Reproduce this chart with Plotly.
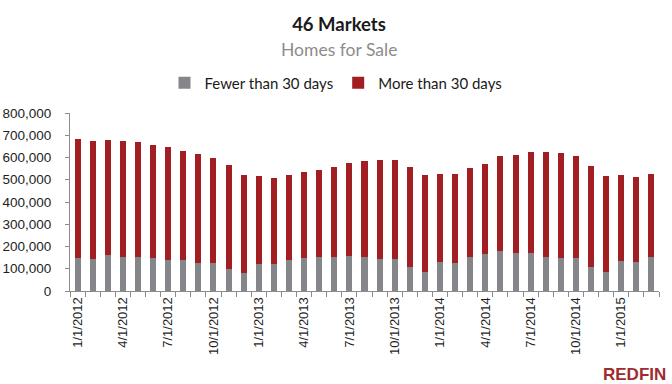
import plotly.graph_objects as go

months = [
    "1/1/2012", "2/1/2012", "3/1/2012", "4/1/2012", "5/1/2012", "6/1/2012",
    "7/1/2012", "8/1/2012", "9/1/2012", "10/1/2012", "11/1/2012", "12/1/2012",
    "1/1/2013", "2/1/2013", "3/1/2013", "4/1/2013", "5/1/2013", "6/1/2013",
    "7/1/2013", "8/1/2013", "9/1/2013", "10/1/2013", "11/1/2013", "12/1/2013",
    "1/1/2014", "2/1/2014", "3/1/2014", "4/1/2014", "5/1/2014", "6/1/2014",
    "7/1/2014", "8/1/2014", "9/1/2014", "10/1/2014", "11/1/2014", "12/1/2014",
    "1/1/2015", "2/1/2015", "3/1/2015",
]

fewer_than_30 = [
    150000, 145000, 163000, 154000, 154000, 150000, 141000, 141000, 127000, 127000,
    100000, 82000, 123000, 123000, 141000, 150000, 154000, 154000, 159000, 154000,
    145000, 145000, 109000, 87000, 132000, 127000, 154000, 168000, 181000, 172000,
    172000, 154000, 150000, 150000, 109000, 87000, 136000, 132000, 154000,
]

more_than_30 = [
    535000, 531000, 517000, 522000, 517000, 508000, 508000, 490000, 490000, 472000,
    468000, 441000, 395000, 386000, 382000, 386000, 391000, 405000, 418000, 432000,
    445000, 445000, 450000, 436000, 395000, 400000, 400000, 404000, 427000, 441000,
    454000, 472000, 472000, 458000, 454000, 431000, 387000, 382000, 373000,
]

tick_labels = [
    "1/1/2012", "", "", "4/1/2012", "", "", "7/1/2012", "", "", "10/1/2012", "", "",
    "1/1/2013", "", "", "4/1/2013", "", "", "7/1/2013", "", "", "10/1/2013", "", "",
    "1/1/2014", "", "", "4/1/2014", "", "", "7/1/2014", "", "", "10/1/2014", "", "",
    "1/1/2015", "", "",
]

GRAY = "#85868A"
RED = "#A11F22"
AXIS = "#8C8C8C"
TEXT = "#1E1E1E"

W, H = 672, 384
ML, MR, MT, MB = 70, 13, 113, 93
PW, PH = W - ML - MR, H - MT - MB


def px_x(px):
    return (px - ML) / PW


def px_y(py):
    return (H - MB - py) / PH


fig = go.Figure()
fig.add_trace(go.Bar(x=months, y=fewer_than_30, name="Fewer than 30 days",
                     marker=dict(color=GRAY, line=dict(width=0))))
fig.add_trace(go.Bar(x=months, y=more_than_30, name="More than 30 days",
                     marker=dict(color=RED, line=dict(width=0))))

fig.update_layout(
    barmode="stack",
    bargap=0.6,
    width=W, height=H,
    paper_bgcolor="white", plot_bgcolor="white",
    margin=dict(l=ML, r=MR, t=MT, b=MB, autoexpand=False),
    font=dict(family="Liberation Sans, Arial, sans-serif", color=TEXT),
    title=dict(text="<b>46 Markets</b>", xref="container", x=339 / W, xanchor="center",
               yref="container", y=1 - 25 / H, yanchor="middle",
               font=dict(family="Lato, sans-serif", size=18.5, color="#1A1A1A")),
    legend=dict(orientation="h", xref="container", x=336 / W, xanchor="center",
                yref="container", y=1 - 83 / H, yanchor="middle",
                font=dict(family="Lato, sans-serif", size=15, color="#1A1A1A"),
                itemwidth=30, traceorder="normal"),
    showlegend=True,
    annotations=[
        dict(text="Homes for Sale", xref="paper", yref="paper",
             x=px_x(339), y=px_y(49), xanchor="center", yanchor="middle",
             showarrow=False, font=dict(family="Lato, sans-serif", size=17.5, color="#8C8C8C")),
        dict(text="<b>REDFIN</b>", xref="paper", yref="paper",
             x=px_x(668), y=px_y(374), xanchor="right", yanchor="middle",
             showarrow=False, font=dict(family="Liberation Sans, Arial, sans-serif",
                                        size=17, color="#A02B2E")),
    ],
)

fig.update_xaxes(
    type="category",
    tickmode="array", tickvals=months, ticktext=tick_labels,
    tickson="boundaries",
    tickangle=-90,
    ticks="outside", ticklen=5, tickcolor=AXIS, tickwidth=1,
    showline=True, linecolor=AXIS, linewidth=1,
    showgrid=False,
    tickfont=dict(family="Liberation Sans, Arial, sans-serif", size=13, color=TEXT),
    range=[-0.5, len(months) - 0.5],
)
fig.update_yaxes(
    range=[0, 800000], dtick=100000, tick0=0,
    tickformat=",",
    ticks="outside", ticklen=4, tickcolor=AXIS,
    showline=True, linecolor=AXIS, linewidth=1,
    showgrid=False, zeroline=False,
    ticklabelstandoff=11,
    tickfont=dict(family="Liberation Sans, Arial, sans-serif", size=13.5, color=TEXT),
)

fig.write_html(
    "out.html",
    config={"displayModeBar": False},
    post_script="document.body.style.margin='0';document.body.style.overflow='hidden';",
)
